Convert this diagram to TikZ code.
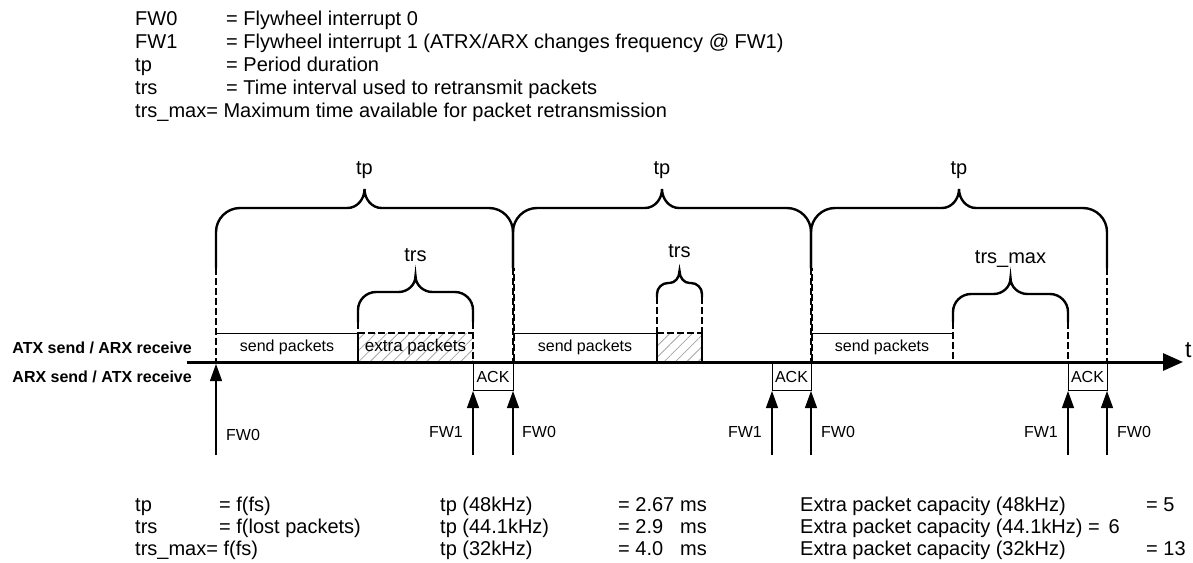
\documentclass[tikz,border=0pt]{standalone}
\usepackage{fontspec}
\setmainfont{Liberation Sans}
\usetikzlibrary{arrows.meta,patterns.meta}

\newcommand\mybrace[7]{% x1 x2 yh yb yt r w
  \pgfmathsetmacro\xm{(#1+#2)/2}
  \draw[bracestyle] (#1,#4) -- (#1,#3+#6)
    .. controls (#1,#3+0.45*#6) and (#1+0.45*#6,#3) .. (#1+#6,#3)
    -- (\xm-#7,#3)
    .. controls (\xm-0.45*#7,#3) and (\xm,#3-0.45*#3+0.45*#5) .. (\xm,#5)
    .. controls (\xm,#3-0.45*#3+0.45*#5) and (\xm+0.45*#7,#3) .. (\xm+#7,#3)
    -- (#2-#6,#3)
    .. controls (#2-0.45*#6,#3) and (#2,#3+0.45*#6) .. (#2,#3+#6)
    -- (#2,#4);
}

\begin{document}
\begin{tikzpicture}[x=1pt,y=-1pt,
  txt/.style={inner sep=0pt, anchor=base west, font=\fontsize{20}{23}\selectfont},
  boxtxt/.style={inner sep=0pt, font=\fontsize{16}{19}\selectfont},
  bigtxt/.style={inner sep=0pt, font=\fontsize{20}{23}\selectfont},
  sidelbl/.style={inner sep=0pt, anchor=base east, font=\bfseries\fontsize{16}{19}\selectfont},
  bracestyle/.style={line width=2.4pt},
  dashline/.style={line width=2pt, dash pattern=on 7pt off 3pt},
  dashline2/.style={line width=1.6pt, dash pattern=on 7pt off 3pt, dash phase=4pt},
  thinbox/.style={line width=1pt},
  hatch/.style={pattern={Lines[angle=45,distance=8pt,line width=0.8pt]}, pattern color=black!35},
  fwarrow/.style={line width=1.2pt, -{Triangle[length=17pt,width=12pt]}},
  axisline/.style={line width=3pt, -{Triangle[length=20pt,width=17pt]}}
]
\useasboundingbox (0,0) rectangle (1193,562);

% ---------- legend ----------
\node[txt] (l1a) at (135,25) {FW0};
\node[txt] (l1b) at (226,25) {= Flywheel interrupt 0};
\node[txt] (l2a) at (135,48) {FW1};
\node[txt] (l2b) at (226,48) {= Flywheel interrupt 1 (ATRX/ARX changes frequency @ FW1)};
\node[txt] (l3a) at (135,71) {tp};
\node[txt] (l3b) at (226,71) {= Period duration};
\node[txt] (l4a) at (135,94) {trs};
\node[txt] (l4b) at (226,94) {= Time interval used to retransmit packets};
\node[txt] (l5a) at (135,117) {trs\_max= Maximum time available for packet retransmission};

% ---------- big braces ----------
\mybrace{216}{513}{208}{268}{189}{24}{17}
\mybrace{513}{811}{208}{268}{189}{24}{17}
\mybrace{811}{1107}{208}{268}{189}{24}{17}
\node[bigtxt] (tp1) at (364.5,170) {tp};
\node[bigtxt] (tp2) at (662,170) {tp};
\node[bigtxt] (tp3) at (959,170) {tp};

% ---------- small braces ----------
\mybrace{358}{473}{292}{322}{276}{18}{17}
\mybrace{657}{702}{283}{297}{271}{11}{10}
\mybrace{953}{1068}{294}{322}{278}{18}{17}
\node[bigtxt] (trs1) at (415.5,255) {trs};
\node[bigtxt] (trs2) at (679.5,251) {trs};
\node[bigtxt] (trs3) at (1010.5,259) {trs\_max};

% ---------- coordinates ----------
\foreach \n/\x in {a/216,b/513,c/811,d/1107}{
  \coordinate (v\n-top) at (\x,268);
  \coordinate (v\n-ax) at (\x,362);
}
\coordinate (ax-s) at (187,362);
\coordinate (ax-e) at (1183,362);

% ---------- hatched boxes ----------
\fill[hatch] (358,333) rectangle (473,362);
\fill[hatch] (657,333) rectangle (702,362);

% ---------- send packet boxes ----------
\draw[thinbox] (216,333) -- (358,333);
\draw[thinbox] (513,333) -- (657,333);
\draw[thinbox] (811,333) -- (953,333);
\node[boxtxt] (sp1) at (287,347) {send packets};
\node[boxtxt] (sp2) at (585,347) {send packets};
\node[boxtxt] (sp3) at (882,347) {send packets};
\node[boxtxt, font=\fontsize{17}{20}\selectfont] (ep1) at (415.5,347) {extra packets};

% hatched box outlines
\draw[dashline] (358,333) -- (473,333);
\draw[line width=2pt] (358,333) -- (358,362);
\draw[dashline] (358,322) -- (358,333);
\draw[dashline] (473,322) -- (473,362);
\draw[dashline] (657,333) -- (702,333);
\draw[dashline] (657,297) -- (657,333);
\draw[dashline] (702,297) -- (702,333);
\draw[line width=2pt] (657,333) -- (657,362);
\draw[line width=2pt] (702,333) -- (702,362);
\draw[dashline] (953,322) -- (953,362);
\draw[dashline] (1068,322) -- (1068,362);

% period lines (shared ones drawn twice, as in the reference)
\foreach \n in {a,b,c,d}{ \draw[dashline] (v\n-top) -- (v\n-ax); }
\foreach \n in {b,c}{ \draw[dashline2] ([xshift=1.2pt]v\n-top) -- ([xshift=1.2pt]v\n-ax); }

% ---------- axis ----------
\draw[axisline] (ax-s) -- (ax-e);
\node[inner sep=0pt, anchor=west, font=\fontsize{23}{26}\selectfont] (tlab) at (1185,350) {t};
\node[sidelbl] (atx) at (192,353) {ATX send / ARX receive};
\node[sidelbl] (arx) at (192,382) {ARX send / ATX receive};

% ---------- ACK boxes ----------
\draw[thinbox] (473,362) rectangle (513,390);
\draw[thinbox] (772,362) rectangle (811,390);
\draw[thinbox] (1068,362) rectangle (1107,390);
\node[boxtxt] (ack1) at (493,377) {ACK};
\node[boxtxt] (ack2) at (791.5,377) {ACK};
\node[boxtxt] (ack3) at (1087.5,377) {ACK};

% ---------- FW arrows ----------
\coordinate (f1s) at (216,455); \coordinate (f1e) at (216,364);
\coordinate (f2s) at (473,455); \coordinate (f2e) at (473,391);
\coordinate (f3s) at (513,455); \coordinate (f3e) at (513,391);
\coordinate (f4s) at (772,455); \coordinate (f4e) at (772,391);
\coordinate (f5s) at (811,455); \coordinate (f5e) at (811,391);
\coordinate (f6s) at (1068,455); \coordinate (f6e) at (1068,391);
\coordinate (f7s) at (1107,455); \coordinate (f7e) at (1107,391);
\foreach \i in {1,...,7}{ \draw[fwarrow] (f\i s) -- (f\i e); }
\node[boxtxt, anchor=west] (fw0a) at (226,435) {FW0};
\node[boxtxt, anchor=east] (fw1a) at (463,432) {FW1};
\node[boxtxt, anchor=west] (fw0b) at (522,432) {FW0};
\node[boxtxt, anchor=east] (fw1b) at (762,432) {FW1};
\node[boxtxt, anchor=west] (fw0c) at (821,432) {FW0};
\node[boxtxt, anchor=east] (fw1c) at (1058,432) {FW1};
\node[boxtxt, anchor=west] (fw0d) at (1117,432) {FW0};

% ---------- bottom table ----------
\node[txt] (b1a) at (135,511) {tp};
\node[txt] (b1b) at (219,511) {= f(fs)};
\node[txt] (b2a) at (135,533) {trs};
\node[txt] (b2b) at (219,533) {= f(lost packets)};
\node[txt] (b3a) at (135,555) {trs\_max= f(fs)};

\node[txt] (c1a) at (440,511) {tp (48kHz)};
\node[txt] (c1b) at (618,511) {= 2.67};
\node[txt] (c2a) at (440,533) {tp (44.1kHz)};
\node[txt] (c2b) at (618,533) {= 2.9};
\node[txt] (c3a) at (440,555) {tp (32kHz)};
\node[txt] (c3b) at (618,555) {= 4.0};
\node[txt] (m1) at (680,511) {ms};
\node[txt] (m2) at (680,533) {ms};
\node[txt] (m3) at (680,555) {ms};

\node[txt] (d1a) at (800,511) {Extra packet capacity (48kHz)};
\node[txt] (d1b) at (1146,511) {= 5};
\node[txt] (d2a) at (800,533) {Extra packet capacity (44.1kHz) = \,6};
\node[txt] (d3a) at (800,555) {Extra packet capacity (32kHz)};
\node[txt] (d3b) at (1146,555) {= 13};
\end{tikzpicture}
\end{document}
